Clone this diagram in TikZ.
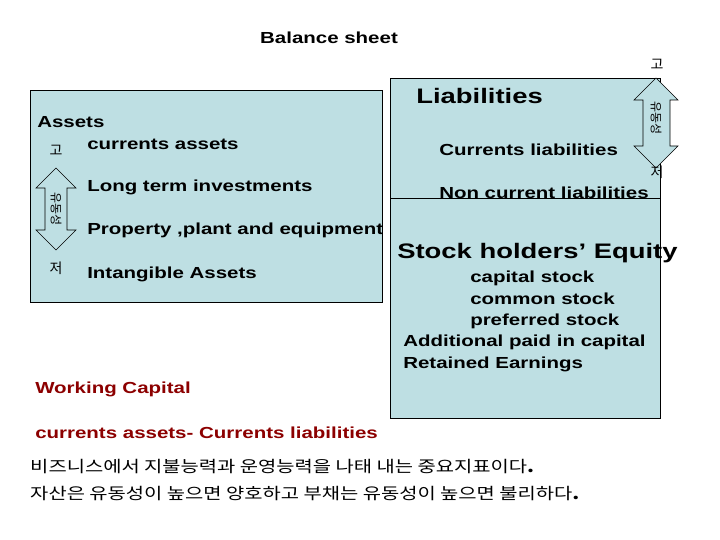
\documentclass[tikz,border=0pt]{standalone}
\usepackage{fontspec}
\setmainfont{Liberation Sans}
\newfontfamily\kr{Noto Sans CJK KR}
\begin{document}
\begin{tikzpicture}[x=1pt,y=-1pt,
  box/.style={draw=black,fill=boxblue,line width=0.8pt},
  txt/.style={anchor=west,inner sep=0pt,xscale=1.28,font=\bfseries\fontsize{16}{18}\selectfont},
  big/.style={txt,xscale=1.02,font=\bfseries\fontsize{21}{24}\selectfont},
  arr/.style={draw=black,fill=boxblue,line width=0.6pt},
  kr/.style={inner sep=0pt,font=\kr\fontsize{14}{16}\selectfont},
  krl/.style={anchor=west,inner sep=0pt,xscale=1.24,font=\kr\fontsize{16}{18}\selectfont}]
\definecolor{boxblue}{HTML}{BEDFE3}
\useasboundingbox (0,0) rectangle (720,540);
\node[txt,anchor=center] (title) at (329,38) {Balance sheet};
% assets
\draw[box] (30,90) rectangle (382,302);
\node[txt] (a0) at (37,122) {Assets};
\node[txt] (a1) at (87,144) {currents assets};
\node[txt] (a2) at (87,187) {Long term investments};
\node[txt] (a3) at (87,230) {Property ,plant and equipment};
\node[txt] (a4) at (87,274) {Intangible Assets};
\node[kr] (lg) at (56,150) {고};
\node[kr] (lj) at (56,268) {저};
\draw[arr] (56,168)--(76,188)--(67,188)--(67,230)--(76,230)--(56,250)--(36,230)--(45,230)--(45,188)--(36,188)--cycle;
\node[kr,rotate=-90,font=\kr\fontsize{12}{14}\selectfont] (lu) at (56,209) {유동성};
% liabilities
\draw[box] (390,78) rectangle (660,198);
\draw[box] (390,198) rectangle (660,418);
\node[big] (l0) at (416,96) {Liabilities};
\node[txt] (l1) at (439,150) {Currents liabilities};
\node[txt] (l2) at (439,193) {Non current liabilities};
\draw[arr] (656,78)--(678,100)--(670,100)--(670,146)--(678,146)--(656,168)--(634,146)--(643,146)--(643,100)--(634,100)--cycle;
\node[kr,rotate=-90,font=\kr\fontsize{12}{14}\selectfont] (ru) at (656,118) {유동성};
\node[kr] (rg) at (657,64) {고};
\node[kr] (rj) at (657,172) {저};
\node[big] (e0) at (397,253) {Stock holders’ Equity};
\node[txt] (e1) at (470,278) {capital stock};
\node[txt] (e2) at (470,299) {common stock};
\node[txt] (e3) at (470,321) {preferred stock};
\node[txt] (e4) at (403,342) {Additional paid in capital};
\node[txt] (e5) at (403,364) {Retained Earnings};
% bottom
\node[txt,text=red!55!black] (w0) at (35,389) {Working Capital};
\node[txt,text=red!55!black] (w1) at (35,433) {currents assets- Currents liabilities};
\node[krl] (k1) at (30,467) {비즈니스에서 지불능력과 운영능력을 나태 내는 중요지표이다\textbf{.}};
\node[krl] (k2) at (30,494) {자산은 유동성이 높으면 양호하고 부채는 유동성이 높으면 불리하다\textbf{.}};
\end{tikzpicture}
\end{document}
